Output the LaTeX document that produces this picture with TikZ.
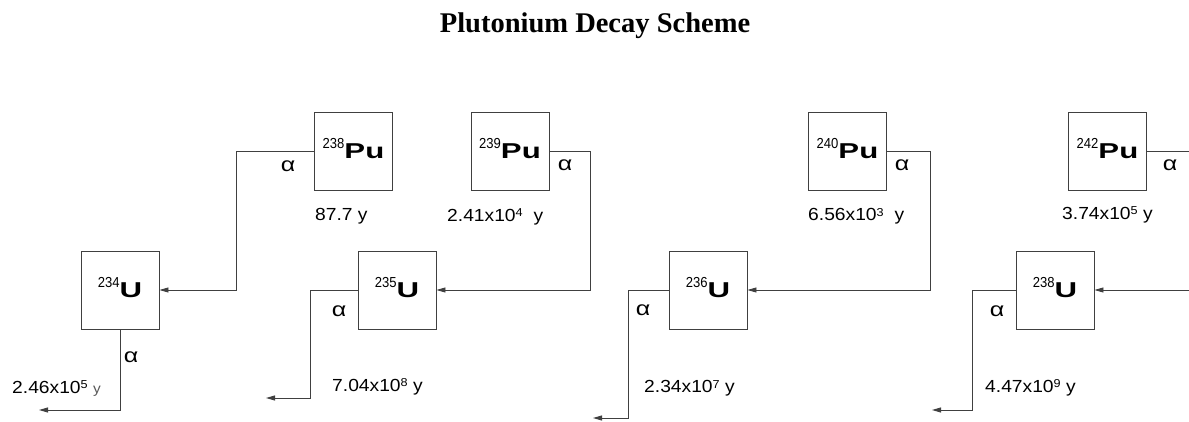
\documentclass[tikz,border=0pt]{standalone}
\usepackage{fontspec}
\setmainfont{Liberation Sans}
\newfontfamily\titlefont{Liberation Serif}
\usepackage{graphicx}
\usetikzlibrary{arrows.meta}
\newcommand\isolab[2]{\rule[-5pt]{0pt}{5pt}\raisebox{9.5pt}{\scalebox{0.9}[1]{\fontsize{14.5}{14.5}\selectfont #1}}\scalebox{1.45}[1]{\fontsize{21.5}{21.5}\selectfont\bfseries #2}}
\newcommand\hlife[3][]{\scalebox{1.1}[1]{#2x10\raisebox{4.5pt}{\fontsize{11.5}{11.5}\selectfont #3}\ #1y}}
\newcommand\alp{\scalebox{1.25}[1]{α}}
\begin{document}
\begin{tikzpicture}[x=1pt,y=-1pt,
  box/.style={draw=black!75, line width=0.9pt, minimum size=78pt, inner sep=0pt},
  conn/.style={draw=black!75, line width=0.9pt, -{Triangle[length=9pt,width=5pt]}},
  alab/.style={inner sep=0pt, font=\fontsize{20}{20}\selectfont},
  hl/.style={anchor=base west, inner sep=0pt, font=\fontsize{17.5}{17.5}\selectfont}]
\useasboundingbox (0,0) rectangle (1189,422);
\clip (0,0) rectangle (1189,422);
\node[anchor=base, inner sep=0pt] (title) at (595,33) {\titlefont\bfseries\fontsize{28.5}{28.5}\selectfont Plutonium Decay Scheme};

\node[box] (pu238) at (353.5,151) {\isolab{238}{Pu}};
\node[box] (pu239) at (510,151) {\isolab{239}{Pu}};
\node[box] (pu240) at (847.5,151) {\isolab{240}{Pu}};
\node[box] (pu242) at (1107.5,151) {\isolab{242}{Pu}};
\node[box] (u234) at (120,290) {\isolab{234}{U}};
\node[box] (u235) at (397,290) {\isolab{235}{U}};
\node[box] (u236) at (708,290) {\isolab{236}{U}};
\node[box] (u238) at (1055,290) {\isolab{238}{U}};

\coordinate (e234) at (39,410);
\coordinate (e235) at (266,398);
\coordinate (e236) at (593,418);
\coordinate (e238) at (932,410);

\draw[conn] (pu238.west) -- ++(-77.5,0) |- (u234.east);
\draw[conn] (pu239.east) -- ++(41,0) |- (u235.east);
\draw[conn] (pu240.east) -- ++(43.5,0) |- (u236.east);
\draw[conn] (pu242.east) -- ++(60,0) |- (u238.east);
\draw[conn] (u234.south) |- (e234);
\draw[conn] (u235.west) -- ++(-47,0) |- (e235);
\draw[conn] (u236.west) -- ++(-40,0) |- (e236);
\draw[conn] (u238.west) -- ++(-43,0) |- (e238);

\node[alab] (a238) at (288,166) {\alp};
\node[alab] (a239) at (565,165) {\alp};
\node[alab] (a240) at (902,165) {\alp};
\node[alab] (a242) at (1170,165) {\alp};
\node[alab] (a234) at (131,357) {\alp};
\node[alab] (a235) at (339,311) {\alp};
\node[alab] (a236) at (643,310) {\alp};
\node[alab] (a238u) at (997,311) {\alp};

\node[hl] (h238) at (315,220.5) {\scalebox{1.1}[1]{87.7 y}};
\node[hl] (h239) at (447,221.5) {\hlife[\hspace{5pt}]{2.41}{4}};
\node[hl] (h240) at (808,221) {\hlife[\hspace{5pt}]{6.56}{3}};
\node[hl] (h242) at (1062,219.5) {\hlife{3.74}{5}};
\node[hl] (h234) at (12,393) {\scalebox{1.1}[1]{2.46x10\raisebox{4.5pt}{\fontsize{11.5}{11.5}\selectfont 5}\ {\color{black!65}\fontsize{14}{14}\selectfont y}}};
\node[hl] (h235) at (332,391) {\hlife{7.04}{8}};
\node[hl] (h236) at (644,392.5) {\hlife{2.34}{7}};
\node[hl] (h238u) at (985,392) {\hlife{4.47}{9}};
\end{tikzpicture}
\end{document}
